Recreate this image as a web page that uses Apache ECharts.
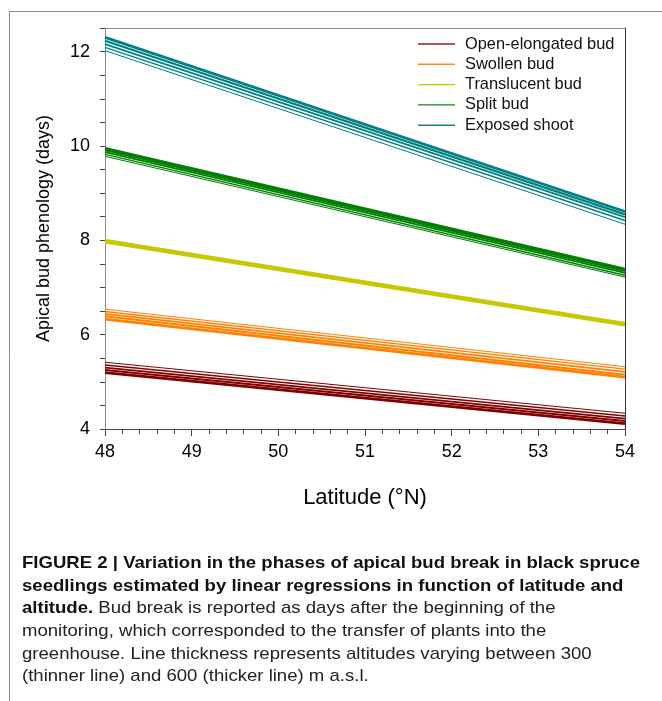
<!DOCTYPE html>
<html>
<head>
<meta charset="utf-8">
<script src="https://cdn.jsdelivr.net/npm/echarts@6/dist/echarts.min.js"></script>
<style>
html,body{margin:0;padding:0;background:#fff;}
#chart{width:662px;height:701px;}
</style>
</head>
<body>
<div id="chart"></div>
<script>
// ---- data ----
const latitudes = [48, 54];
const altitudes = [300, 375, 450, 525, 600];
const phases = ['Open-elongated bud', 'Swollen bud', 'Translucent bud', 'Split bud', 'Exposed shoot'];
// values at [48°N, 54°N] per altitude (300, 375, 450, 525, 600 m)
const openElongated = [[5.415, 4.334], [5.358, 4.277], [5.30, 4.22], [5.25, 4.17], [5.195, 4.114]];
const swollen = [[6.54, 5.32], [6.49, 5.27], [6.44, 5.21], [6.39, 5.15], [6.33, 5.10]];
const translucent = [[8.02, 6.26], [8.005, 6.245], [7.99, 6.23], [7.975, 6.215], [7.96, 6.20]];
const splitBud = [[9.78, 7.22], [9.82, 7.26], [9.87, 7.31], [9.91, 7.35], [9.95, 7.39]];
const exposedShoot = [[12.02, 8.34], [12.09, 8.42], [12.16, 8.49], [12.23, 8.55], [12.30, 8.61]];
const xTickLabels = ['48', '49', '50', '51', '52', '53', '54'];
const yTickLabels = ['4', '6', '8', '10', '12'];
const captionLines = [
  [{b: 'FIGURE 2 | Variation in the phases of apical bud break in black spruce'}],
  [{b: 'seedlings estimated by linear regressions in function of latitude and'}],
  [{b: 'altitude.'}, {n: ' Bud break is reported as days after the beginning of the'}],
  [{n: 'monitoring, which corresponded to the transfer of plants into the'}],
  [{n: 'greenhouse. Line thickness represents altitudes varying between 300'}],
  [{n: '(thinner line) and 600 (thicker line) m a.s.l.'}]
];

// ---- styles ----
const phaseValues = [openElongated, swollen, translucent, splitBud, exposedShoot];
const colors = ['#800000', '#ff8000', '#c8c800', '#008000', '#008080'];
const legendColors = ['#a01818', '#ff8a1a', '#c8c800', '#108a10', '#108585'];
const widths = [1, 1.4, 1.8, 2.2, 2.8];
const FONT = "'Liberation Sans', Arial, Helvetica, sans-serif";

const series = [];
phases.forEach((name, p) => {
  altitudes.forEach((alt, a) => {
    series.push({
      name: name,
      type: 'line',
      symbol: 'none',
      showSymbol: false,
      lineStyle: {color: colors[p], width: widths[a]},
      itemStyle: {color: a === 0 ? legendColors[p] : colors[p]},
      data: latitudes.map((lat, i) => [lat, phaseValues[p][a][i]]),
      z: 2
    });
  });
});

// caption graphic
const mctx = document.createElement('canvas').getContext('2d');
mctx.font = 'bold 17px ' + FONT;
const w1 = mctx.measureText(captionLines[0][0].b).width;
const sx = 618 / w1;
const graphic = [{
  type: 'rect', shape: {x: 9.5, y: 11.5, width: 700, height: 720},
  style: {fill: 'none', stroke: '#8c8c8c', lineWidth: 1}, silent: true, z: 0
}];
captionLines.forEach((parts, i) => {
  const txt = parts.map(pt => pt.b !== undefined ? '{b|' + pt.b + '}' : '{n|' + pt.n + '}').join('');
  graphic.push({
    type: 'text', x: 22, y: 572 + i * 22.6, scaleX: sx,
    style: {
      text: txt, verticalAlign: 'bottom',
      rich: {
        b: {fontFamily: FONT, fontWeight: 'bold', fontSize: 17, fill: '#111', color: '#111'},
        n: {fontFamily: FONT, fontWeight: 'normal', fontSize: 17, fill: '#222', color: '#222'}
      }
    },
    silent: true
  });
});

const chart = echarts.init(document.getElementById('chart'), null, {renderer: 'canvas'});
chart.setOption({
  animation: false,
  backgroundColor: '#fff',
  grid: {left: 105, right: 37, top: 28, bottom: 272, show: false},
  legend: {
    show: true,
    data: phases, orient: 'vertical', left: 413, top: 29,
    icon: 'rect', itemWidth: 37, itemHeight: 1.4,
    itemGap: 0.3,
    selectedMode: false,
    textStyle: {fontFamily: FONT, fontSize: 16.4, color: '#111', lineHeight: 20, padding: [0, 0, 0, 5]}
  },
  xAxis: [{
    type: 'value', min: 48, max: 54, interval: 1,
    axisLine: {show: true, lineStyle: {color: '#444', width: 1}},
    axisTick: {show: true, inside: false, length: 7, lineStyle: {color: '#444'}},
    minorTick: {show: true, splitNumber: 5, length: 5, lineStyle: {color: '#444'}},
    splitLine: {show: false},
    axisLabel: {fontFamily: FONT, fontSize: 18, color: '#000', margin: 14,
      formatter: v => { const i = Math.round(v - 48); return xTickLabels[i] !== undefined ? xTickLabels[i] : ''; }},
    name: 'Latitude (°N)', nameLocation: 'middle', nameGap: 58,
    nameTextStyle: {fontFamily: FONT, fontSize: 22, color: '#000'}
  }, {
    type: 'value', min: 48, max: 54, position: 'top',
    axisLine: {show: true, lineStyle: {color: '#8c8c8c', width: 1}},
    axisTick: {show: false}, axisLabel: {show: false}, splitLine: {show: false}
  }],
  yAxis: [{
    type: 'value', min: 4, max: 12.5, interval: 0.5,
    axisLine: {show: true, lineStyle: {color: '#8c8c8c', width: 1}},
    axisTick: {show: true, inside: false, length: 5, lineStyle: {color: '#444'}},
    splitLine: {show: false},
    axisLabel: {fontFamily: FONT, fontSize: 18, color: '#000', margin: 15, showMaxLabel: true,
      formatter: v => { const r = Math.round(v * 2) / 2; if (r % 2 !== 0) return ''; const i = (r - 4) / 2; return yTickLabels[i] !== undefined ? yTickLabels[i] : ''; }},
    name: 'Apical bud phenology (days)', nameLocation: 'middle', nameGap: 52, nameRotate: 90,
    nameTextStyle: {fontFamily: FONT, fontSize: 18, color: '#000'}
  }, {
    type: 'value', min: 4, max: 12.5, position: 'right',
    axisLine: {show: true, lineStyle: {color: '#333', width: 1}},
    axisTick: {show: false}, axisLabel: {show: false}, splitLine: {show: false}
  }],
  graphic: graphic,
  series: series
});
</script>
</body>
</html>
